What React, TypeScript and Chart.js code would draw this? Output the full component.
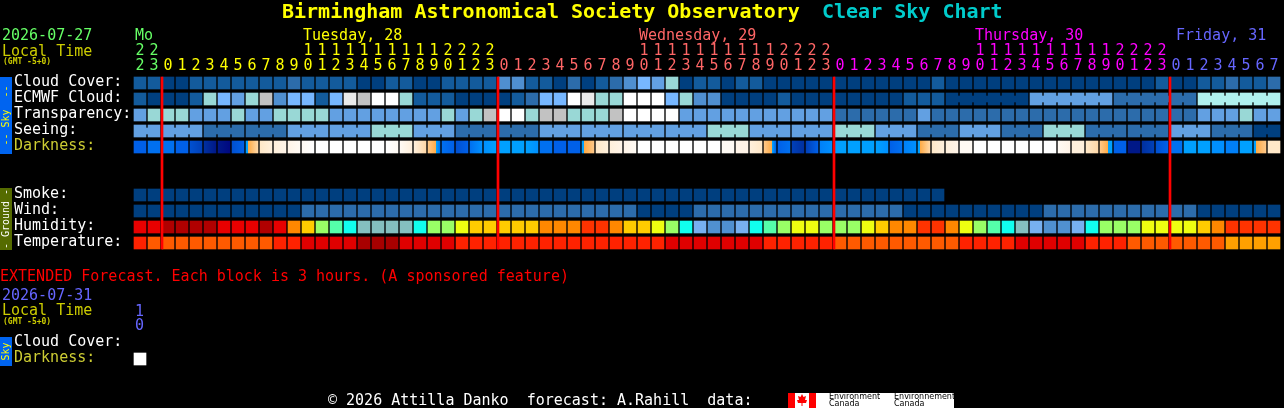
import React, { useEffect, useRef } from "react";
import { Chart, registerables } from "chart.js";

Chart.register(...registerables);

const MONO = '"DejaVu Sans Mono", monospace';

// hour shown above each block
const hourSlots = [22, 23,
  0, 1, 2, 3, 4, 5, 6, 7, 8, 9, 10, 11, 12, 13, 14, 15, 16, 17, 18, 19, 20, 21, 22, 23,
  0, 1, 2, 3, 4, 5, 6, 7, 8, 9, 10, 11, 12, 13, 14, 15, 16, 17, 18, 19, 20, 21, 22, 23,
  0, 1, 2, 3, 4, 5, 6, 7, 8, 9, 10, 11, 12, 13, 14, 15, 16, 17, 18, 19, 20, 21, 22, 23,
  0, 1, 2, 3, 4, 5, 6, 7];

const rowLabels = ["Cloud Cover:", "ECMWF Cloud:", "Transparency:", "Seeing:", "Darkness:", "Smoke:", "Wind:", "Humidity:", "Temperature:", "Cloud Cover:", "Darkness:"];
const rowPositions = [0, 1, 2, 3, 4, 7, 8, 9, 10, 16.25, 17.25];

const cloudCover = [1, 1, 0, 0, 1, 1, 1, 1, 1, 1, 1, 2, 1, 1, 1, 1, 0, 0, 1, 1, 0, 0, 1, 1, 1, 1, 3, 3, 1, 1, 0, 2, 0, 1, 2, 3, 5, 4, 6, 0, 1, 1, 0, 1, 1, 0, 0, 0, 0, 0, 0, 0, 0, 0, 0, 0, 0, 1, 0, 0, 0, 0, 0, 0, 0, 0, 0, 0, 0, 0, 0, 0, 0, 1, 0, 0, 1, 1, 2, 1, 1, 2];
const ecmwfCloud = [1, 0, 0, 0, 1, 6, 5, 4, 6, 7, 3, 5, 5, 1, 5, 8, 7, 9, 9, 6, 1, 1, 1, 0, 0, 0, 0, 1, 2, 5, 5, 9, 8, 6, 6, 9, 9, 9, 5, 6, 3, 3, 0, 0, 0, 0, 1, 0, 0, 0, 0, 0, 0, 0, 0, 1, 1, 1, 0, 0, 0, 0, 0, 0, 4, 4, 4, 4, 4, 4, 2, 2, 2, 2, 2, 2, 10, 10, 10, 10, 10, 10];
const ecmwfBlockStarts = [58, 64, 70, 76];
const transparency = [4, 6, 6, 6, 4, 4, 4, 6, 4, 4, 6, 6, 6, 6, 4, 4, 4, 4, 4, 4, 4, 4, 6, 4, 6, 7, 9, 9, 6, 7, 7, 6, 6, 6, 7, 9, 9, 9, 9, 4, 4, 4, 4, 4, 4, 4, 4, 4, 4, 4, 2, 2, 2, 2, 2, 2, 4, 2, 2, 2, 2, 2, 2, 2, 2, 2, 2, 2, 2, 2, 2, 2, 2, 2, 2, 2, 4, 4, 4, 6, 4, 4];
const seeing = [4, 4, 4, 4, 4, 2, 2, 2, 2, 2, 2, 4, 4, 4, 4, 4, 4, 6, 6, 6, 4, 4, 4, 2, 2, 2, 2, 2, 2, 4, 4, 4, 4, 4, 4, 4, 4, 4, 4, 4, 4, 6, 6, 6, 4, 4, 4, 4, 4, 4, 6, 6, 6, 4, 4, 4, 2, 2, 2, 4, 4, 4, 2, 2, 2, 6, 6, 6, 2, 2, 2, 2, 2, 2, 4, 4, 4, 2, 2, 2, 0, 0];
const seeingBlockStarts = [0, 2, 5, 8, 11, 14, 17, 20, 23, 26, 29, 32, 35, 38, 41, 44, 47, 50, 53, 56, 59, 62, 65, 68, 71, 74, 77, 80];
const darknessStart = [12, 11, 11, 12, 13, 15, 16, 13, 8, 4, 3, 2, 1, 0, 0, 0, 0, 0, 0, 1, 3, 6, 11, 13, 11, 9, 8, 8, 8, 11, 12, 12, 8, 4, 3, 2, 0, 0, 0, 0, 0, 0, 1, 2, 3, 6, 12, 14, 14, 10, 8, 8, 8, 8, 12, 10, 8, 4, 3, 1, 0, 0, 0, 0, 0, 0, 1, 3, 4, 6, 12, 16, 15, 13, 11, 8, 8, 9, 10, 8, 8, 4];
const darknessEnd = [12, 11, 11, 12, 14, 16, 17, 12, 5, 3, 2, 1, 0, 0, 0, 0, 0, 0, 1, 3, 5, 11, 12, 12, 9, 8, 8, 8, 9, 11, 12, 12, 6, 3, 2, 1, 0, 0, 0, 0, 0, 0, 1, 2, 4, 12, 11, 15, 12, 9, 8, 8, 8, 9, 11, 9, 5, 3, 2, 1, 0, 0, 0, 0, 0, 0, 2, 3, 5, 8, 12, 16, 14, 12, 11, 8, 8, 9, 10, 8, 6, 4];
const smoke = [0, 0, 0, 0, 0, 0, 0, 0, 0, 0, 0, 0, 0, 0, 0, 0, 0, 0, 0, 0, 0, 0, 0, 0, 0, 0, 0, 0, 0, 0, 0, 0, 0, 0, 0, 0, 0, 0, 0, 0, 0, 0, 0, 0, 0, 0, 0, 0, 0, 0, 0, 0, 0, 0, 0, 0, 0, 0];
const wind = [0, 0, 0, 0, 0, 0, 0, 0, 0, 0, 0, 0, 2, 2, 2, 2, 2, 2, 2, 2, 2, 2, 2, 2, 2, 2, 2, 2, 2, 2, 2, 2, 2, 2, 2, 2, 0, 0, 0, 0, 2, 2, 2, 2, 2, 2, 2, 2, 2, 2, 2, 2, 2, 2, 2, 0, 0, 0, 0, 0, 0, 0, 0, 0, 0, 2, 2, 2, 2, 2, 2, 2, 2, 2, 2, 2, 0, 0, 0, 0, 0, 0];
const humidity = [1, 1, 0, 0, 0, 0, 1, 1, 1, 0, 1, 3, 4, 6, 7, 8, 9, 9, 9, 9, 8, 6, 6, 5, 4, 4, 4, 4, 4, 3, 3, 3, 2, 2, 3, 4, 4, 5, 6, 8, 11, 10, 10, 11, 8, 7, 6, 5, 5, 6, 6, 6, 5, 4, 3, 3, 2, 2, 3, 5, 6, 7, 8, 9, 11, 10, 10, 11, 8, 6, 6, 6, 5, 5, 5, 5, 4, 3, 2, 2, 2, 2];
const temperature = [2, 3, 3, 3, 3, 3, 3, 3, 3, 3, 2, 2, 1, 1, 1, 1, 0, 0, 0, 1, 1, 1, 1, 2, 2, 2, 2, 2, 2, 2, 2, 2, 2, 2, 2, 2, 2, 2, 1, 1, 1, 1, 1, 1, 1, 2, 2, 2, 2, 2, 3, 3, 3, 3, 3, 3, 3, 3, 3, 2, 2, 2, 2, 1, 1, 1, 1, 1, 2, 2, 2, 3, 3, 3, 3, 3, 3, 3, 4, 4, 4, 4];
const extendedDarkness = [0];
const midnightLines = [1.5714, 25.5714, 49.5714, 73.5714];

const cloudColors = ["#003f7f", "#135b9c", "#2c6cab", "#4f8fd0", "#62a0e2", "#77b7ff", "#99d8d6", "#c2c2c2", "#eaeaea", "#ffffff", "#b0f0ee"];
const humidityColors = ["#b00000", "#e80000", "#ff3300", "#ff8800", "#ffcc00", "#eeff11", "#99ff66", "#55ffaa", "#11ffee", "#84c0c0", "#5090d0", "#77b0f0"];
const temperatureColors = ["#a80000", "#e00000", "#ff2200", "#ff5a00", "#ffa000"];
const darknessColors = ["#ffffff", "#fffaf4", "#fff4e8", "#fff0dc", "#ffe8c8", "#ffd8a8", "#ffc888", "#ffaa44", "#00a0ff", "#0090ff", "#0080f8", "#0070f0", "#0060e8", "#0050d0", "#0040b8", "#0030a0", "#001888", "#000880"];

const dayColors = ["#66ff66", "#ffff00", "#ff6666", "#ff00ff", "#6666ff"];
const dayFirstSlots = [0, 2, 26, 50, 74];

const dayOfSlot = (i: number) => {
  let d = 0;
  dayFirstSlots.forEach((s, k) => { if (i >= s) d = k; });
  return d;
};

const HALF = 0.375;
const ROW = { cloud: 0, ecmwf: 1, trans: 2, seeing: 3, dark: 4, smoke: 7, wind: 8, hum: 9, temp: 10, extDark: 17.25 };

const cellData = (values: number[], row: number) => values.map((_, i) => ({ x: i, y: [row - HALF, row + HALF] }));

const cellSet = (label: string, values: number[], row: number, palette: string[]) => ({
  label,
  data: cellData(values, row),
  barThickness: 12,
  backgroundColor: (c: any) => palette[values[c.dataIndex]],
});

const connectorSet = (label: string, values: number[], row: number, starts: number[], palette: string[], last: number) => {
  const slots: number[] = [];
  for (let i = 0; i < last; i++) {
    if (i >= starts[0] && !starts.includes(i + 1)) slots.push(i);
  }
  return {
    label,
    data: slots.map((s) => ({ x: s + 0.5, y: [row - 0.1875, row + 0.1875] })),
    barThickness: 2,
    backgroundColor: (c: any) => palette[values[slots[c.dataIndex]]],
  };
};

const darknessFill = (c: any, start: number[], end: number[]) => {
  const i = c.dataIndex;
  const a = start[i];
  const b = end[i];
  if (a === b) return darknessColors[a];
  const x0 = c.chart.scales.x.getPixelForValue(i) - 6;
  const g = c.chart.ctx.createLinearGradient(x0, 0, x0 + 12, 0);
  g.addColorStop(0, darknessColors[a]);
  if (a >= 8 && b < 8) {
    g.addColorStop(0.17, darknessColors[a]);
    g.addColorStop(0.17, darknessColors[7]);
  } else if (a < 8 && b >= 8) {
    g.addColorStop(0.7, darknessColors[7]);
    g.addColorStop(0.7, darknessColors[8]);
  }
  g.addColorStop(1, darknessColors[b]);
  return g;
};

const texts: [string, number, number, string, string][] = [
  ["2026-07-27", 2, 36, "#66ff66", "15px"],
  ["Local Time", 2, 52, "#cccc00", "15px"],
  ["(GMT -5+0)", 3, 62, "#cccc00", "bold 8px"],
  ["Mo", 135, 36, "#66ff66", "15px"],
  ["Tuesday, 28", 303, 36, "#ffff00", "15px"],
  ["Wednesday, 29", 639, 36, "#ff6666", "15px"],
  ["Thursday, 30", 975, 36, "#ff00ff", "15px"],
  ["Friday, 31", 1176, 36, "#6666ff", "15px"],
  ["Birmingham Astronomical Society Observatory", 282, 13, "#ffff00", "bold 20px"],
  ["Clear Sky Chart", 822, 13, "#00cccc", "bold 20px"],
  ["EXTENDED Forecast. Each block is 3 hours. (A sponsored feature)", 0, 277, "#ff0000", "15px"],
  ["2026-07-31", 2, 296, "#6666ff", "15px"],
  ["Local Time", 2, 311, "#cccc00", "15px"],
  ["(GMT -5+0)", 3, 322, "#cccc00", "bold 8px"],
  ["1", 135, 312, "#6666ff", "15px"],
  ["0", 135, 326, "#6666ff", "15px"],
  ["\u00a9 2026 Attilla Danko  forecast: A.Rahill  data:", 328, 401, "#ffffff", "15px"],
];

const sidePanels: [string, number, number, string, string][] = [
  ["-- Sky  --", 77, 154, "#0064f0", "#ffff00"],
  ["- Ground -", 188, 250, "#556b00", "#ffffff"],
  ["Sky", 337, 366, "#0064f0", "#ffff00"],
];

const decorPlugin = {
  id: "decor",
  beforeDraw(chart: any) {
    const ctx = chart.ctx;
    ctx.save();
    ctx.fillStyle = "#000000";
    ctx.fillRect(0, 0, chart.width, chart.height);
    ctx.textBaseline = "middle";
    ctx.textAlign = "left";
    texts.forEach(([t, x, y, color, font]) => {
      ctx.fillStyle = color;
      ctx.font = `${font} ${MONO}`;
      ctx.fillText(t, x, y);
    });
    sidePanels.forEach(([t, top, bottom, bg, fg]) => {
      ctx.fillStyle = bg;
      ctx.fillRect(0, top, 12, bottom - top);
      ctx.save();
      ctx.translate(6, (top + bottom) / 2);
      ctx.rotate(-Math.PI / 2);
      ctx.textAlign = "center";
      ctx.fillStyle = fg;
      ctx.font = `10px ${MONO}`;
      ctx.fillText(t, 0, 0);
      ctx.restore();
    });
    // data-source logo
    ctx.fillStyle = "#ffffff";
    ctx.fillRect(788, 393, 166, 15);
    ctx.fillStyle = "#ff0000";
    ctx.fillRect(788, 393, 7, 15);
    ctx.fillRect(809, 393, 7, 15);
    ctx.beginPath();
    [[802, 394], [803.5, 397], [806, 396], [805, 400], [807, 400], [806, 403], [802.5, 403], [802.5, 406], [801.5, 406], [801.5, 403], [798, 403], [797, 400], [799, 400], [798, 396], [800.5, 397]].forEach(([x, y], i) => (i ? ctx.lineTo(x, y) : ctx.moveTo(x, y)));
    ctx.closePath();
    ctx.fill();
    ctx.fillStyle = "#000000";
    ctx.font = '8px "DejaVu Sans"';
    ctx.fillText("Environment", 829, 397);
    ctx.fillText("Canada", 829, 404);
    ctx.fillText("Environnement", 894, 397);
    ctx.fillText("Canada", 894, 404);
    ctx.restore();
  },
};

export default function App() {
  const ref = useRef<HTMLCanvasElement>(null);
  useEffect(() => {
    document.body.style.margin = "0";
    document.body.style.background = "#000000";
    const chart = new Chart(ref.current!, {
      type: "bar",
      plugins: [decorPlugin],
      data: {
        datasets: [
          {
            label: "Midnight",
            data: midnightLines.map((x) => ({ x, y: [ROW.cloud - HALF, ROW.temp + HALF] })),
            barThickness: 2,
            backgroundColor: "#ff0000",
          },
          cellSet("Cloud Cover", cloudCover, ROW.cloud, cloudColors),
          cellSet("ECMWF Cloud", ecmwfCloud, ROW.ecmwf, cloudColors),
          connectorSet("ECMWF Cloud join", ecmwfCloud, ROW.ecmwf, ecmwfBlockStarts, cloudColors, 81),
          cellSet("Transparency", transparency, ROW.trans, cloudColors),
          cellSet("Seeing", seeing, ROW.seeing, cloudColors),
          connectorSet("Seeing join", seeing, ROW.seeing, seeingBlockStarts, cloudColors, 81),
          {
            label: "Darkness",
            data: cellData(darknessStart, ROW.dark),
            barThickness: 12,
            backgroundColor: (c: any) => darknessFill(c, darknessStart, darknessEnd),
          },
          cellSet("Smoke", smoke, ROW.smoke, cloudColors),
          cellSet("Wind", wind, ROW.wind, cloudColors),
          cellSet("Humidity", humidity, ROW.hum, humidityColors),
          cellSet("Temperature", temperature, ROW.temp, temperatureColors),
          cellSet("Extended Darkness", extendedDarkness, ROW.extDark, darknessColors),
        ] as any,
      },
      options: {
        responsive: false,
        animation: false,
        events: [],
        layout: { padding: { left: 14, right: 3, top: 0, bottom: 37 } },
        datasets: { bar: { grouped: false, borderWidth: 0 } },
        plugins: { legend: { display: false }, tooltip: { enabled: false }, title: { display: false } },
        scales: {
          x: {
            type: "linear",
            position: "top",
            offset: false,
            min: -0.5,
            max: 81.5,
            grid: { display: false, drawTicks: false },
            border: { display: false },
            afterBuildTicks: (s: any) => { s.ticks = hourSlots.map((_, i) => ({ value: i })); },
            afterFit: (s: any) => { s.height = 75; s.paddingLeft = 0; s.paddingRight = 0; },
            ticks: {
              autoSkip: false,
              maxRotation: 0,
              minRotation: 0,
              padding: 1,
              font: { family: MONO, size: 15, lineHeight: "15px" },
              color: (c: any) => dayColors[dayOfSlot(c.index)],
              callback: (_: any, i: number) => {
                const h = hourSlots[i];
                return h >= 10 ? [String(Math.floor(h / 10)), String(h % 10)] : ["", String(h)];
              },
            },
          },
          y: {
            type: "linear",
            reverse: true,
            min: -0.5,
            max: 18,
            grid: { display: false, drawTicks: false },
            border: { display: false },
            afterBuildTicks: (s: any) => { s.ticks = rowPositions.map((value) => ({ value })); },
            afterFit: (s: any) => { s.width = 119; s.paddingTop = 0; s.paddingBottom = 0; },
            ticks: {
              autoSkip: false,
              crossAlign: "far",
              labelOffset: -1,
              font: { family: MONO, size: 15, lineHeight: "15px" },
              color: (c: any) => (rowLabels[c.index] === "Darkness:" ? "#cccc33" : "#ffffff"),
              callback: (_: any, i: number) => rowLabels[i],
            },
          },
        },
      } as any,
    });
    return () => chart.destroy();
  }, []);
  return <canvas ref={ref} width={1284} height={408} style={{ display: "block", width: 1284, height: 408 }} />;
}
